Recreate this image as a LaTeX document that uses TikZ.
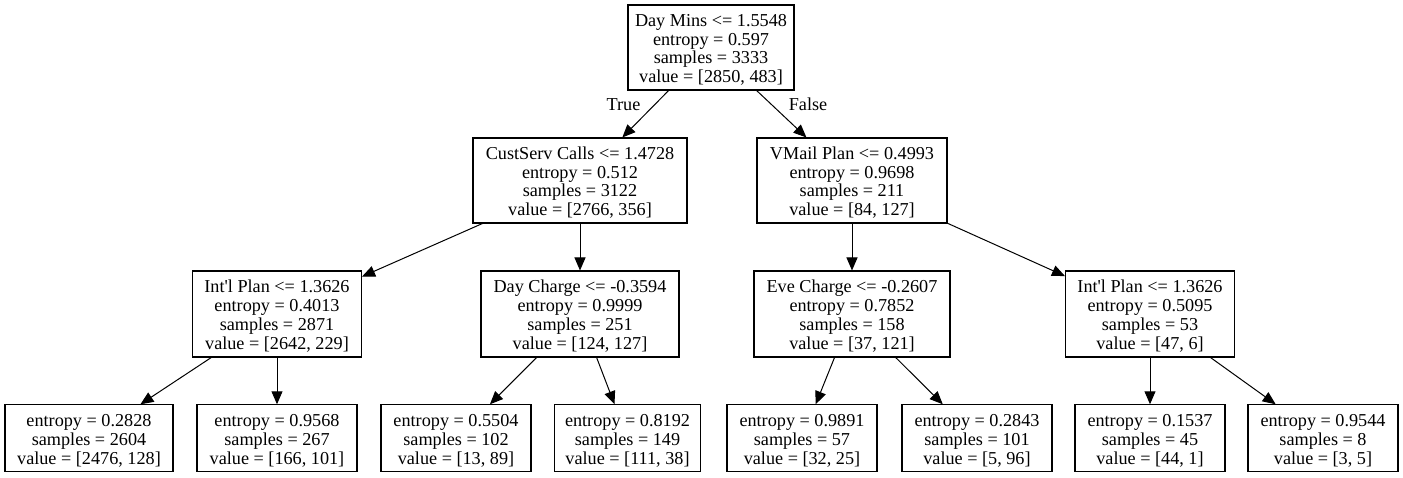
\documentclass[tikz,border=0pt]{standalone}
\usepackage{fontspec}
\setmainfont{Liberation Serif}
\usetikzlibrary{arrows.meta}
\newcommand\firstln{\rule{0pt}{19pt}}
\newcommand\lastln{\rule[-5pt]{0pt}{5pt}}
\begin{document}
\begin{tikzpicture}[x=1pt,y=-1pt,
  box/.style={draw, line width=1.05pt, rectangle, inner sep=0pt, align=center,
    font=\fontsize{18.2}{18.7}\selectfont},
  inner/.style={box, minimum height=86pt},
  leaf/.style={box, minimum height=67pt},
  edge/.style={draw, line width=1pt, -{Triangle[length=13pt,width=11pt]}},
  elabel/.style={font=\fontsize{18.2}{18.7}\selectfont, inner sep=0pt, anchor=base}]
\useasboundingbox (0,0) rectangle (1403,477);
% level 1
\node[box, minimum width=166pt, minimum height=85pt] (root) at (711,47.5)
  {\firstln Day Mins <= 1.5548\\entropy = 0.597\\samples = 3333\\value = [2850, 483]\lastln};
% level 2
\node[box, minimum width=214pt, minimum height=85pt] (cust) at (580,180.5)
  {\firstln CustServ Calls <= 1.4728\\entropy = 0.512\\samples = 3122\\value = [2766, 356]\lastln};
\node[box, minimum width=190pt, minimum height=85pt] (vmail) at (852,180.5)
  {\firstln VMail Plan <= 0.4993\\entropy = 0.9698\\samples = 211\\value = [84, 127]\lastln};
% level 3
\node[inner, minimum width=169pt] (intlA) at (277,314)
  {\firstln Int\textquotesingle l Plan <= 1.3626\\entropy = 0.4013\\samples = 2871\\value = [2642, 229]\lastln};
\node[inner, minimum width=198pt] (dayc) at (580,314)
  {\firstln Day Charge <= -0.3594\\entropy = 0.9999\\samples = 251\\value = [124, 127]\lastln};
\node[inner, minimum width=196pt] (eve) at (852,314)
  {\firstln Eve Charge <= -0.2607\\entropy = 0.7852\\samples = 158\\value = [37, 121]\lastln};
\node[inner, minimum width=169pt] (intlB) at (1150,314)
  {\firstln Int\textquotesingle l Plan <= 1.3626\\entropy = 0.5095\\samples = 53\\value = [47, 6]\lastln};
% leaves
\node[leaf, minimum width=168pt] (l1) at (89,438.3)
  {\firstln entropy = 0.2828\\samples = 2604\\value = [2476, 128]\lastln};
\node[leaf, minimum width=160pt] (l2) at (277,438.3)
  {\firstln entropy = 0.9568\\samples = 267\\value = [166, 101]\lastln};
\node[leaf, minimum width=150pt] (l3) at (456,438.3)
  {\firstln entropy = 0.5504\\samples = 102\\value = [13, 89]\lastln};
\node[leaf, minimum width=146pt] (l4) at (627.5,438.3)
  {\firstln entropy = 0.8192\\samples = 149\\value = [111, 38]\lastln};
\node[leaf, minimum width=150pt] (l5) at (802,438.3)
  {\firstln entropy = 0.9891\\samples = 57\\value = [32, 25]\lastln};
\node[leaf, minimum width=150pt] (l6) at (977,438.3)
  {\firstln entropy = 0.2843\\samples = 101\\value = [5, 96]\lastln};
\node[leaf, minimum width=150pt] (l7) at (1150,438.3)
  {\firstln entropy = 0.1537\\samples = 45\\value = [44, 1]\lastln};
\node[leaf, minimum width=150pt] (l8) at (1323,438.3)
  {\firstln entropy = 0.9544\\samples = 8\\value = [3, 5]\lastln};
% edges
\draw[edge] (root) -- (cust);
\draw[edge] (root) -- (vmail);
\draw[edge] (cust) -- (intlA);
\draw[edge] (cust) -- (dayc);
\draw[edge] (vmail) -- (eve);
\draw[edge] (vmail) -- (intlB);
\draw[edge] (intlA) -- (l1);
\draw[edge] (intlA) -- (l2);
\draw[edge] (dayc) -- (l3);
\draw[edge] (dayc) -- (l4);
\draw[edge] (eve) -- (l5);
\draw[edge] (eve) -- (l6);
\draw[edge] (intlB) -- (l7);
\draw[edge] (intlB) -- (l8);
% edge labels
\node[elabel] (tlab) at (623.5,110) {True};
\node[elabel] (flab) at (808,110) {False};
\end{tikzpicture}
\end{document}
